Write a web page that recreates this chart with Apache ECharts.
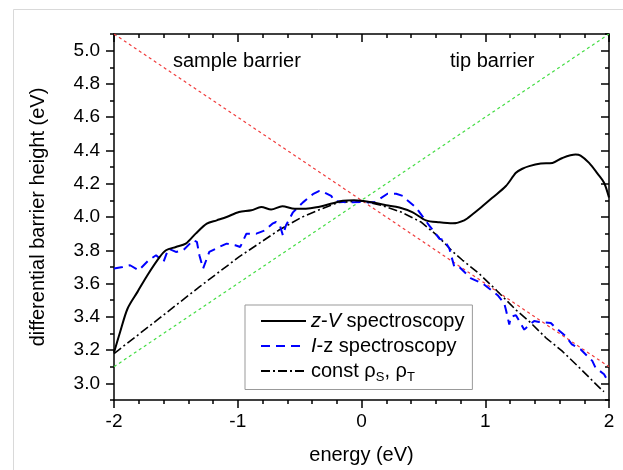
<!DOCTYPE html>
<html>
<head>
<meta charset="utf-8">
<script src="https://cdn.jsdelivr.net/npm/echarts@6/dist/echarts.min.js"></script>
<style>
html,body{margin:0;padding:0;background:#fff;}
#chart{width:623px;height:470px;}
</style>
</head>
<body>
<div id="chart"></div>
<script>
// ---- data ----
var zvX = [-2, -1.95, -1.89, -1.81, -1.73, -1.63, -1.58, -1.50, -1.42, -1.34, -1.25, -1.17, -1.09, -0.99, -0.89, -0.81, -0.73, -0.64, -0.54, -0.45, -0.365, -0.23, -0.15, -0.06, 0.0, 0.09, 0.20, 0.306, 0.414, 0.52, 0.63, 0.737, 0.83, 0.90, 0.97, 1.06, 1.167, 1.248, 1.30, 1.355, 1.449, 1.543, 1.624, 1.73, 1.77, 1.839, 1.906, 1.96, 2.0];
var zvY = [3.185, 3.31, 3.45, 3.55, 3.65, 3.76, 3.80, 3.82, 3.84, 3.90, 3.96, 3.98, 4.00, 4.03, 4.04, 4.06, 4.045, 4.065, 4.05, 4.05, 4.058, 4.083, 4.097, 4.10, 4.097, 4.087, 4.071, 4.057, 4.028, 3.98, 3.968, 3.962, 3.98, 4.018, 4.06, 4.117, 4.186, 4.266, 4.29, 4.306, 4.321, 4.325, 4.355, 4.375, 4.369, 4.325, 4.262, 4.206, 4.117];

var izX = [-2, -1.93, -1.87, -1.80, -1.72, -1.66, -1.60, -1.56, -1.50, -1.44, -1.36, -1.33, -1.31, -1.28, -1.23, -1.15, -1.09, -1.02, -0.98, -0.93, -0.85, -0.78, -0.72, -0.69, -0.66, -0.635, -0.61, -0.554, -0.473, -0.393, -0.34, -0.30, -0.245, -0.218, -0.123, 0.0, 0.105, 0.13, 0.21, 0.28, 0.333, 0.36, 0.44, 0.548, 0.63, 0.67, 0.71, 0.75, 0.79, 0.857, 0.885, 0.98, 1.10, 1.153, 1.167, 1.194, 1.207, 1.248, 1.315, 1.34, 1.395, 1.435, 1.53, 1.556, 1.65, 1.70, 1.77, 1.865, 1.89, 1.96, 1.99, 2.0];
var izY = [3.69, 3.70, 3.71, 3.68, 3.74, 3.77, 3.73, 3.81, 3.79, 3.80, 3.86, 3.85, 3.77, 3.69, 3.79, 3.82, 3.84, 3.83, 3.82, 3.90, 3.90, 3.92, 3.96, 3.97, 3.95, 3.889, 3.95, 4.028, 4.088, 4.137, 4.157, 4.147, 4.127, 4.097, 4.088, 4.09, 4.088, 4.10, 4.14, 4.14, 4.127, 4.107, 4.057, 3.948, 3.869, 3.86, 3.81, 3.70, 3.70, 3.651, 3.631, 3.60, 3.53, 3.482, 3.443, 3.353, 3.40, 3.41, 3.323, 3.34, 3.375, 3.369, 3.363, 3.343, 3.284, 3.234, 3.205, 3.135, 3.095, 3.055, 3.016, 3.02];

var crX = [-2, -1.63, -1.31, -0.99, -0.67, -0.48, -0.32, -0.19, 0, 0.16, 0.32, 0.48, 0.61, 0.74, 0.817, 0.95, 1.09, 1.25, 1.355, 1.49, 1.62, 1.76, 1.946, 1.96];
var crY = [3.179, 3.393, 3.58, 3.76, 3.92, 4.0, 4.05, 4.087, 4.097, 4.07, 4.03, 3.97, 3.89, 3.79, 3.74, 3.66, 3.56, 3.44, 3.373, 3.274, 3.195, 3.095, 2.957, 2.95];

var sampleLineX = [-2, 2];
var sampleLineY = [5.1, 3.1];
var tipLineX = [-2, 2];
var tipLineY = [3.1, 5.1];

var xMajorTicks = ['-2', '-1', '0', '1', '2'];
var xMinorTicks = ['-2', '-1.8', '-1.6', '-1.4', '-1.2', '-1', '-0.8', '-0.6', '-0.4', '-0.2', '0', '0.2', '0.4', '0.6', '0.8', '1', '1.2', '1.4', '1.6', '1.8', '2'];
var yLabelValues = [3.0, 3.2, 3.4, 3.6, 3.8, 4.0, 4.2, 4.4, 4.6, 4.8, 5.0];

var seriesNames = ['z-V spectroscopy', 'I-z spectroscopy', 'const ρS, ρT'];

function zip(xs, ys) { return xs.map(function (x, i) { return [x, ys[i]]; }); }

var FONT = 'Liberation Sans, Arial, Helvetica, sans-serif';
var chart = echarts.init(document.getElementById('chart'));

function ls() { return { color: '#000', width: 1.5 }; }

function xAx(pos, inside) {
  return {
    type: 'value', position: pos, min: -2, max: 2, interval: 1,
    axisLine: { show: true, onZero: false, lineStyle: ls() },
    axisTick: { show: true, length: 8, inside: inside, lineStyle: ls() },
    minorTick: { show: true, splitNumber: 5, length: 4, lineStyle: ls() },
    axisLabel: pos === 'bottom' ? { color: '#000', fontSize: 19, fontFamily: FONT, margin: 12 } : { show: false },
    splitLine: { show: false }, minorSplitLine: { show: false }
  };
}
// tick companions: category axes over the same span, one tick per listed value
function xTickAx(pos, inside, cats, len) {
  return {
    type: 'category', position: pos, data: cats, boundaryGap: false,
    axisLine: { show: false, onZero: false },
    axisTick: { show: true, interval: 0, length: len, inside: inside, lineStyle: ls() },
    axisLabel: { show: false },
    splitLine: { show: false }
  };
}
// y ticks: interval 0.2 counted from 2.9 -> short ticks at odd tenths, minor ticks (split 2) give the long ones at even tenths
function yAx(pos, inside) {
  return {
    type: 'value', position: pos, min: 2.9, max: 5.1, interval: 0.2,
    axisLine: { show: true, onZero: false, lineStyle: ls() },
    axisTick: { show: true, length: 4, inside: inside, lineStyle: ls() },
    minorTick: { show: true, splitNumber: 2, length: 8, lineStyle: ls() },
    axisLabel: pos === 'left' ? { show: true, customValues: yLabelValues, margin: 14, color: '#000', fontSize: 19, fontFamily: FONT,
      formatter: function (v) { return v.toFixed(1); } } : { show: false },
    splitLine: { show: false }, minorSplitLine: { show: false }
  };
}

var xb = xAx('bottom', false);
xb.name = 'energy (eV)'; xb.nameLocation = 'middle'; xb.nameGap = 45;
xb.nameTextStyle = { color: '#000', fontSize: 20, fontFamily: FONT };
var yl = yAx('left', false);
yl.name = 'differential barrier height (eV)'; yl.nameLocation = 'middle'; yl.nameGap = 66; yl.nameRotate = 90;
yl.nameTextStyle = { color: '#000', fontSize: 20, fontFamily: FONT };

var option = {
  animation: false,
  backgroundColor: '#fff',
  grid: { left: 114, right: 14, top: 34, bottom: 67 },
  xAxis: [
    xb, xAx('top', true),
    xTickAx('bottom', false, xMinorTicks, 4), xTickAx('bottom', false, xMajorTicks, 8),
    xTickAx('top', true, xMinorTicks, 4), xTickAx('top', true, xMajorTicks, 8)
  ],
  yAxis: [yl, yAx('right', true)],
  legend: {
    orient: 'vertical', left: 245, top: 305,
    data: seriesNames,
    itemWidth: 45, itemHeight: 14, itemGap: 5,
    padding: [6, 8, 6, 15],
    borderColor: '#999', borderWidth: 1, backgroundColor: '#fff',
    itemStyle: { opacity: 0 },
    textStyle: {
      color: '#000', fontSize: 20, fontFamily: FONT, lineHeight: 20,
      rich: {
        i: { fontStyle: 'italic', fontSize: 20, fontFamily: FONT, color: '#000' },
        n: { fontSize: 20, fontFamily: FONT, color: '#000' },
        s: { fontSize: 13, fontFamily: FONT, color: '#000', padding: [12, 0, 0, 0] }
      }
    },
    formatter: function (name) {
      if (name === seriesNames[0]) return '{i|z}{n|-}{i|V}{n| spectroscopy}';
      if (name === seriesNames[1]) return '{i|I}{n|-z spectroscopy}';
      return '{n|const ρ}{s|S}{n|, ρ}{s|T}';
    }
  },
  graphic: [
    { type: 'line', shape: { x1: 13.5, y1: 9.5, x2: 623, y2: 9.5 }, style: { stroke: '#d9d9d9', lineWidth: 1 }, silent: true },
    { type: 'line', shape: { x1: 13.5, y1: 9.5, x2: 13.5, y2: 470 }, style: { stroke: '#d9d9d9', lineWidth: 1 }, silent: true },
    { type: 'text', left: 173, top: 51, style: { text: 'sample barrier', fill: '#000', font: '20px ' + FONT } },
    { type: 'text', left: 450, top: 51, style: { text: 'tip barrier', fill: '#000', font: '20px ' + FONT } }
  ],
  series: [
    {
      name: 'sample', type: 'line', data: zip(sampleLineX, sampleLineY), symbol: 'none', silent: true,
      lineStyle: { color: '#f03c3c', width: 1.2, type: [3, 3] }, z: 1
    },
    {
      name: 'tip', type: 'line', data: zip(tipLineX, tipLineY), symbol: 'none', silent: true,
      lineStyle: { color: '#44dd44', width: 1.2, type: [3, 3] }, z: 1
    },
    {
      name: seriesNames[2], type: 'line', data: zip(crX, crY), symbol: 'none',
      itemStyle: { color: '#000' },
      lineStyle: { color: '#000', width: 1.6, type: [9, 3, 2, 3] }, z: 2
    },
    {
      name: seriesNames[1], type: 'line', data: zip(izX, izY), symbol: 'none',
      itemStyle: { color: '#0000ff' },
      lineStyle: { color: '#0000ff', width: 2, type: [9, 6] }, z: 3
    },
    {
      name: seriesNames[0], type: 'line', data: zip(zvX, zvY), symbol: 'none', smooth: 0.3,
      itemStyle: { color: '#000' },
      lineStyle: { color: '#000', width: 2 }, z: 4
    }
  ]
};
chart.setOption(option);
</script>
</body>
</html>
